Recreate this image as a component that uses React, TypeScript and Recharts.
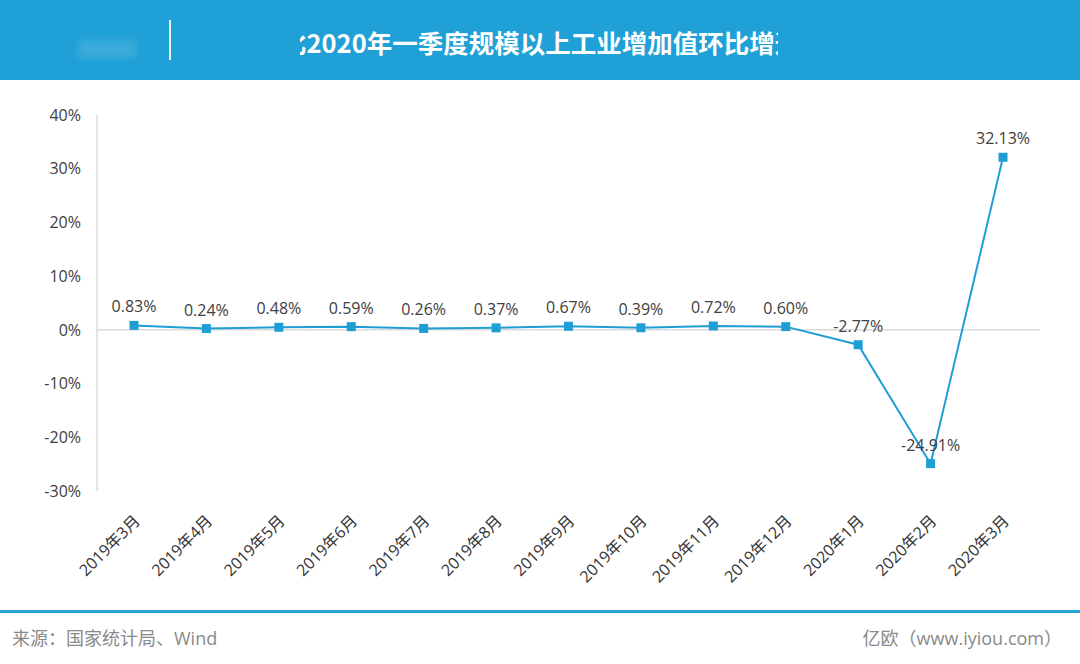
import { LineChart, Line, XAxis, YAxis, ReferenceLine, LabelList } from 'recharts'

const months = [
  '2019年3月', '2019年4月', '2019年5月', '2019年6月', '2019年7月', '2019年8月', '2019年9月',
  '2019年10月', '2019年11月', '2019年12月', '2020年1月', '2020年2月', '2020年3月',
]
const growth = [0.83, 0.24, 0.48, 0.59, 0.26, 0.37, 0.67, 0.39, 0.72, 0.6, -2.77, -24.91, 32.13]
const yTicks = [-30, -20, -10, 0, 10, 20, 30, 40]

const data = months.map((month, i) => ({ month, value: growth[i] }))

const FONT = '"Open Sans", "Noto Sans CJK SC", sans-serif'
const BLUE = '#1f9ed5'

const MonthTick = (props: any) => {
  const { x, y, payload } = props
  return (
    <g transform={`translate(${x + 7},${y + 23}) rotate(-45)`}>
      <text textAnchor="end" fontSize={16} fill="#333" fontFamily={FONT}>
        {payload.value}
      </text>
    </g>
  )
}

const Square = (props: any) => {
  const { cx, cy } = props
  if (cx == null || cy == null) return null
  return <rect x={cx - 4.5} y={cy - 4.5} width={9} height={9} fill={BLUE} />
}

export default function App() {
  return (
    <div style={{ position: 'absolute', left: 0, top: 0, width: 1080, height: 664, background: '#fff', fontFamily: FONT, overflow: 'hidden' }}>
      <div style={{ position: 'absolute', left: 0, top: 0, width: 1080, height: 80, background: '#1fa0d6' }}>
        <div style={{ position: 'absolute', left: 78, top: 40, width: 58, height: 18, background: 'rgba(255,255,255,0.12)', filter: 'blur(3px)' }} />
        <div style={{ position: 'absolute', left: 169, top: 20, width: 2, height: 40, background: '#e6f4fb' }} />
        <div
          style={{
            position: 'absolute', left: 300, top: 22, width: 478, height: 40, overflow: 'hidden',
            whiteSpace: 'nowrap', color: '#fff', fontWeight: 700, fontSize: 25.5, lineHeight: '40px',
            fontFamily: '"Noto Sans CJK SC", sans-serif',
          }}
        >
          <div style={{ marginLeft: -19 }}>比2020年一季度规模以上工业增加值环比增速</div>
        </div>
      </div>

      <div style={{ position: 'absolute', left: 0, top: 0 }}>
        <LineChart width={1080} height={664} data={data} margin={{ top: 115, right: 40, bottom: 53, left: 0 }}>
          <XAxis
            dataKey="month"
            axisLine={false}
            tickLine={false}
            interval={0}
            padding={{ left: 37, right: 37 }}
            height={120}
            tick={<MonthTick />}
          />
          <YAxis
            domain={[-30, 40]}
            ticks={yTicks}
            width={97}
            tickLine={false}
            tickMargin={10}
            axisLine={{ stroke: '#c8c8c8' }}
            tickFormatter={(v: number) => `${v}%`}
            tick={{ fontSize: 16, fill: '#404040', fontFamily: FONT }}
          />
          <ReferenceLine y={0} stroke="#c8c8c8" />
          <Line
            type="linear"
            dataKey="value"
            stroke={BLUE}
            strokeWidth={2}
            dot={<Square />}
            activeDot={false}
            isAnimationActive={false}
          >
            <LabelList
              dataKey="value"
              position="top"
              offset={13}
              formatter={(v: any) => `${Number(v).toFixed(2)}%`}
              style={{ fontSize: 16, fill: '#404040', fontFamily: FONT }}
            />
          </Line>
        </LineChart>
      </div>

      <div style={{ position: 'absolute', left: 0, top: 610, width: 1080, height: 3, background: '#2aa3d6' }} />
      <div style={{ position: 'absolute', left: 12, top: 624, fontSize: 18, color: '#8a8a8a' }}>来源：国家统计局、Wind</div>
      <div style={{ position: 'absolute', right: 18, top: 624, fontSize: 18, color: '#8a8a8a' }}>亿欧（www.iyiou.com）</div>
    </div>
  )
}
